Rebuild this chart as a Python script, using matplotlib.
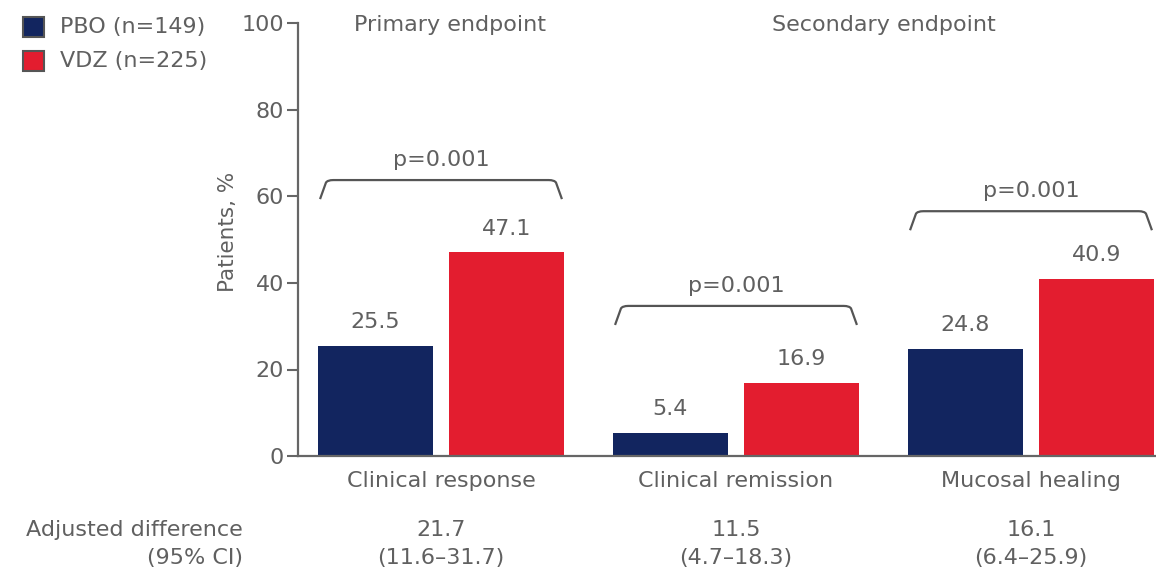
import matplotlib
matplotlib.use('Agg')
import matplotlib.pyplot as plt
import matplotlib.transforms as mtransforms
from matplotlib.path import Path
from matplotlib.patches import PathPatch, Rectangle
import numpy as np

# ---------------- data ----------------
categories = ['Clinical response', 'Clinical remission', 'Mucosal healing']
pbo_values = [25.5, 5.4, 24.8]
vdz_values = [47.1, 16.9, 40.9]
series_names = ['PBO (n=149)', 'VDZ (n=225)']
p_values = ['p=0.001', 'p=0.001', 'p=0.001']
adj_diff = ['21.7', '11.5', '16.1']
adj_ci = ['(11.6\u201331.7)', '(4.7\u201318.3)', '(6.4\u201325.9)']
yticks = [0, 20, 40, 60, 80, 100]
endpoint_headers = ['Primary endpoint', 'Secondary endpoint']

# ---------------- style ----------------
NAVY = '#12255F'
RED = '#E31D2F'
TXT = '#606060'
AX = '#666666'
FS = 16
plt.rcParams['font.family'] = ['DejaVu Sans']

fig = plt.figure(figsize=(11.56, 5.71), dpi=100)
W, H = 1156, 571
ax = fig.add_axes([298 / W, 1 - 456 / H, (W - 298) / W, (456 - 23.5) / H])

x = np.arange(len(categories))
bw = 0.39
off = 0.222
ax.bar(x - off, pbo_values, bw, color=NAVY, zorder=2)
ax.bar(x + off, vdz_values, bw, color=RED, zorder=2)

ax.set_xlim(-0.4847, -0.4847 + 858 / 295)
ax.set_ylim(0, 100)
ax.set_yticks(yticks)
ax.set_yticklabels([str(t) for t in yticks], fontsize=FS, color=TXT)
ax.tick_params(axis='y', length=8, width=1.5, color=AX, pad=2)
ax.set_xticks([])
for s in ['top', 'right']:
    ax.spines[s].set_visible(False)
for s in ['left', 'bottom']:
    ax.spines[s].set_color(AX)
    ax.spines[s].set_linewidth(1.6)
    ax.spines[s].set_zorder(3)

# value labels
for xi, v in zip(x - off, pbo_values):
    ax.annotate(f'{v}', (xi, v), xytext=(0, 17), textcoords='offset points',
                ha='center', va='center', fontsize=FS, color=TXT)
for xi, v in zip(x + off, vdz_values):
    ax.annotate(f'{v}', (xi, v), xytext=(0, 17), textcoords='offset points',
                ha='center', va='center', fontsize=FS, color=TXT)

# brackets
bracket_top = [63.8, 34.7, 56.6]
for xi, top, ptxt in zip(x, bracket_top, p_values):
    x0 = xi - off - bw / 2 + 0.007
    x1 = xi + off + bw / 2 - 0.007
    low = top - 4.4
    verts = [(x0, low), (x0 + 0.02, top - 0.6), (x0 + 0.025, top), (x0 + 0.045, top),
             (x1 - 0.045, top), (x1 - 0.025, top), (x1 - 0.02, top - 0.6), (x1, low)]
    codes = [Path.MOVETO, Path.LINETO, Path.CURVE3, Path.CURVE3,
             Path.LINETO, Path.CURVE3, Path.CURVE3, Path.LINETO]
    ax.add_patch(PathPatch(Path(verts, codes), fill=False, edgecolor='#555555', lw=1.6, zorder=3))
    ax.text(xi, top + 4.6, ptxt, ha='center', va='center', fontsize=FS, color=TXT)

# headers
tr = mtransforms.blended_transform_factory(ax.transData, fig.transFigure)
ax.text(0.03, 1 - 25 / H, endpoint_headers[0], transform=tr, ha='center', va='center',
        fontsize=FS, color=TXT)
ax.text(1.50, 1 - 25 / H, endpoint_headers[1], transform=tr, ha='center', va='center',
        fontsize=FS, color=TXT)

# category labels and adjusted differences
for xi, c, d, ci in zip(x, categories, adj_diff, adj_ci):
    ax.text(xi, 1 - 481 / H, c, transform=tr, ha='center', va='center', fontsize=FS, color=TXT)
    ax.text(xi, 1 - 530 / H, d, transform=tr, ha='center', va='center', fontsize=FS, color=TXT)
    ax.text(xi, 1 - 558 / H, ci, transform=tr, ha='center', va='center', fontsize=FS, color=TXT)
fig.text(243 / W, 1 - 530 / H, 'Adjusted difference', ha='right', va='center', fontsize=FS, color=TXT)
fig.text(243 / W, 1 - 558 / H, '(95% CI)', ha='right', va='center', fontsize=FS, color=TXT)

# y label
fig.text(228 / W, 1 - 232 / H, 'Patients, %', rotation=90, ha='center', va='center',
         fontsize=FS - 0.5, color=TXT)

# legend
for i, (name, col) in enumerate(zip(series_names, [NAVY, RED])):
    cy = 27 + i * 34
    fig.add_artist(Rectangle((23 / W, 1 - (cy + 10) / H), 21 / W, 20 / H, transform=fig.transFigure,
                             facecolor=col, edgecolor='#555555', lw=1.5))
    fig.text(60 / W, 1 - cy / H, name, ha='left', va='center', fontsize=FS, color=TXT)

fig.savefig('out.png', dpi=100)
